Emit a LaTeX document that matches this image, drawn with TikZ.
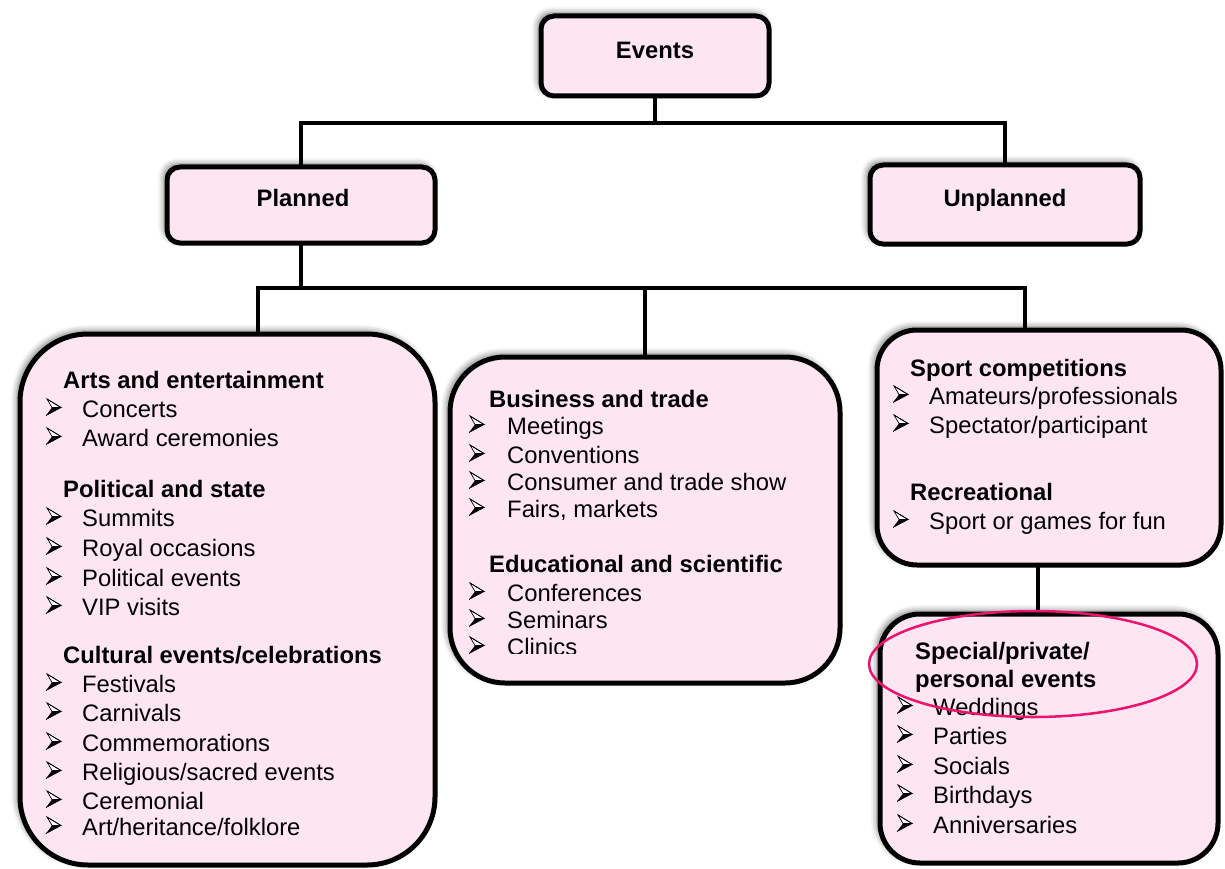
\documentclass[tikz,border=0pt]{standalone}
\usepackage{fontspec}
\setmainfont{Liberation Sans}
\usetikzlibrary{shadows.blur}
\definecolor{boxpink}{RGB}{253,230,242}
\definecolor{ringred}{RGB}{236,20,110}
\tikzset{
  box/.style={draw=black, line width=5pt, fill=boxpink, inner sep=0pt,
    blur shadow={shadow xshift=-3pt, shadow yshift=3pt,
                 shadow blur radius=6pt, shadow opacity=55}},
  conn/.style={line width=4.5pt, line cap=rect},
  hd/.style={anchor=base west, inner sep=0pt, font=\bfseries},
  itm/.style={anchor=base west, inner sep=0pt},
  ttl/.style={anchor=base, inner sep=0pt, font=\bfseries},
  pics/bul/.style={code={
    \draw[line width=0.7pt, fill=white, line join=miter] (1,-18) -- (15,-9.5) -- (6,-9.5) -- cycle;
    \fill (0,-1.5) -- (15,-9.5) -- (6,-9.5) -- cycle;
    \draw[line width=0.7pt, line join=miter] (1,-18) -- (15,-9.5) -- (0,-1.5);
  }}
}
\begin{document}
\fontsize{23.8pt}{28pt}\selectfont
\begin{tikzpicture}[x=1pt, y=-1pt]
\useasboundingbox (0,0) rectangle (1225,869);

% ---- boxes ----
\node[box, minimum width=228, minimum height=80, rounded corners=13pt] (events) at (655,56) {};
\node[box, minimum width=268, minimum height=76, rounded corners=13pt] (planned) at (301,205) {};
\node[box, minimum width=270, minimum height=79, rounded corners=13pt] (unplanned) at (1005,204.5) {};
\node[box, minimum width=415, minimum height=531, rounded corners=68pt] (arts) at (227.5,599.5) {};
\node[box, minimum width=390, minimum height=326, rounded corners=55pt] (business) at (645,520) {};
\node[box, minimum width=344, minimum height=235, rounded corners=40pt] (sport) at (1049,447.5) {};
\node[box, minimum width=338, minimum height=249, rounded corners=40pt] (special) at (1049,738.5) {};

% ---- connectors ----
\coordinate (bar1) at (0,123);
\coordinate (dA) at (258,288);
\coordinate (dC) at (1025,288);
\coordinate (dS) at (1038,0);
\draw[conn] (events.south) -- (events.south |- bar1);
\draw[conn] (planned.north) -- (planned.north |- bar1) -- (unplanned.north |- bar1) -- (unplanned.north);
\draw[conn] (planned.south) -- (planned.south |- dA);
\draw[conn] (arts.north -| dA) -- (dA) -- (dC) -- (sport.north -| dC);
\draw[conn] (business.north) -- (business.north |- dA);
\draw[conn] (sport.south -| dS) -- (special.north -| dS);

% ---- titles ----
\node[ttl] (t-events) at (655,59) {Events};
\node[ttl] (t-planned) at (303,207) {Planned};
\node[ttl] (t-unplanned) at (1005,207) {Unplanned};

% ---- arts, political, cultural ----
\node[hd] (h-arts) at (63,388) {Arts and entertainment};
\foreach \y/\t [count=\i] in {417/{Concerts}, 446/{Award ceremonies}}
  {\pic at (46,\y) {bul}; \node[itm] (arts-\i) at (82,\y) {\t};}
\node[hd] (h-pol) at (63,497) {Political and state};
\foreach \y/\t [count=\i] in {526/{Summits}, 556/{Royal occasions}, 586/{Political events}, 615/{VIP visits}}
  {\pic at (46,\y) {bul}; \node[itm] (pol-\i) at (82,\y) {\t};}
\node[hd] (h-cult) at (63,663) {Cultural events/celebrations};
\foreach \y/\t [count=\i] in {692/{Festivals}, 721/{Carnivals}, 751/{Commemorations},
    780/{Religious/sacred events}, 809/{Ceremonial}, 835/{Art/heritance/folklore}}
  {\pic at (46,\y) {bul}; \node[itm] (cult-\i) at (82,\y) {\t};}

% ---- business, educational ----
\node[hd] (h-bus) at (489,407) {Business and trade};
\foreach \y/\t [count=\i] in {434/{Meetings}, 463/{Conventions}, 490/{Consumer and trade show}, 517/{Fairs, markets}}
  {\pic at (469,\y) {bul}; \node[itm] (bus-\i) at (507,\y) {\t};}
\node[hd] (h-edu) at (489,572) {Educational and scientific};
\foreach \y/\t [count=\i] in {601/{Conferences}, 628/{Seminars}}
  {\pic at (469,\y) {bul}; \node[itm] (edu-\i) at (507,\y) {\t};}
\begin{scope}
  \clip (455,630) rectangle (830,653);
  \pic at (469,655) {bul};
  \node[itm] (edu-3) at (507,655) {Clinics};
\end{scope}

% ---- sport, recreational ----
\node[hd] (h-sport) at (910,376) {Sport competitions};
\foreach \y/\t [count=\i] in {404/{Amateurs/professionals}, 433/{Spectator/participant}}
  {\pic at (893,\y) {bul}; \node[itm] (sport-\i) at (929,\y) {\t};}
\node[hd] (h-rec) at (910,500) {Recreational};
\pic at (893,529) {bul};
\node[itm] (rec-1) at (929,529) {Sport or games for fun};

% ---- special events ----
\node[hd] (h-spec1) at (915,659) {Special/private/};
\node[hd] (h-spec2) at (915,687) {personal events};
\foreach \y/\t [count=\i] in {715/{Weddings}, 744/{Parties}, 774/{Socials}, 803/{Birthdays}, 833/{Anniversaries}}
  {\pic at (897,\y) {bul}; \node[itm] (spec-\i) at (933,\y) {\t};}

% highlight ring round the special events heading
\draw[ringred, line width=2.5pt] (1033,664) ellipse [x radius=164, y radius=53];
\end{tikzpicture}
\end{document}
